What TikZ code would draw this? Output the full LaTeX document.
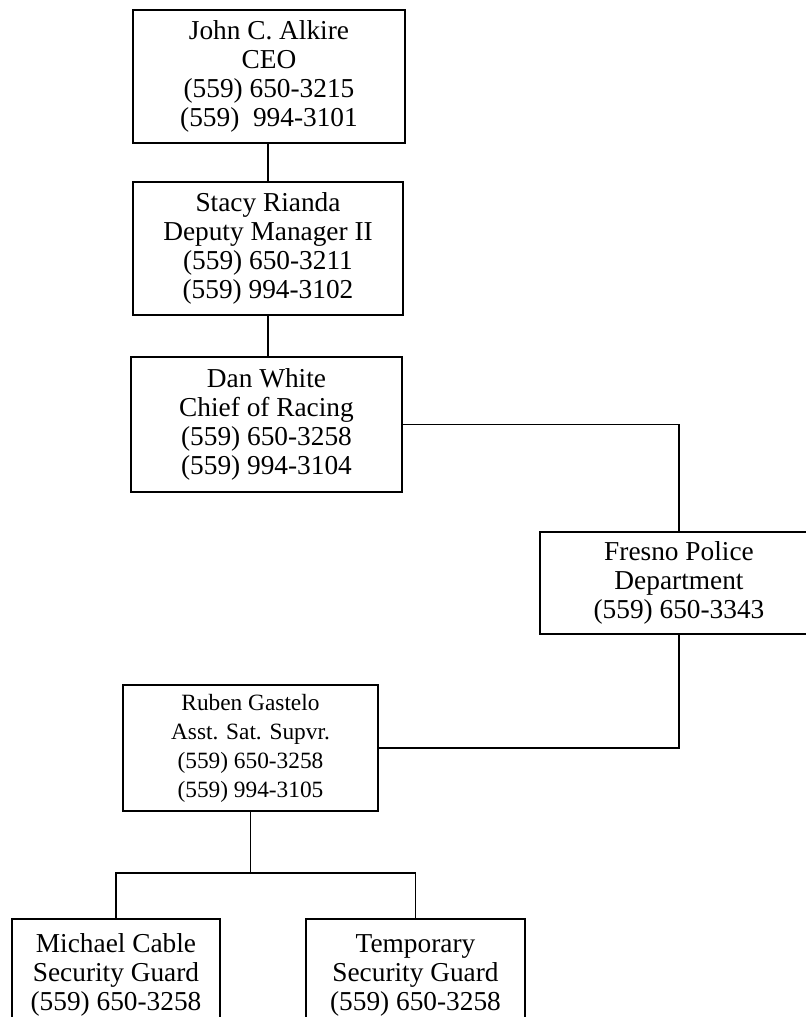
\documentclass[tikz,border=0pt]{standalone}
\usepackage{fontspec}
\setmainfont{Liberation Serif}
\usepackage{tikz}
\newcommand{\midX}{268}
\newcommand{\splitY}{873}
\newcommand{\lowX}{0}
\newcommand{\lowY}{0}
\newcommand{\hiX}{806}
\newcommand{\hiY}{1017}

\begin{document}
\begin{tikzpicture}[x=0.75pt,y=-0.75pt,
    person/.style={draw=black, line width=0.8pt, align=center, inner sep=0pt,
        font=\fontsize{20.5}{21.75}\selectfont},
    link/.style={draw=black, line width=0.8pt}]

        % Fix the page to the size of the scan
        \useasboundingbox (\lowX,\lowY) rectangle (\hiX,\hiY);

        % Draw the boxes of the chart
        \node[person, minimum width=204pt, minimum height=99.75pt] (ceo) at (269,76.5)
            {John C. Alkire\\CEO\\(559) 650-3215\\(559)~~994-3101};
        \node[person, minimum width=202.5pt, minimum height=99.75pt] (deputy) at (\midX,248.5)
            {Stacy Rianda\\Deputy Manager II\\(559) 650-3211\\(559) 994-3102};
        \node[person, minimum width=203.25pt, minimum height=101.25pt] (chief) at (266.5,424.5)
            {Dan White\\Chief of Racing\\(559) 650-3258\\(559) 994-3104};
        \node[person, minimum width=208.5pt, minimum height=76.5pt] (police) at (679,583)
            {Fresno Police\\Department\\(559) 650-3343};
        \node[person, minimum width=191.25pt, minimum height=94.5pt,
              font=\fontsize{17.5}{21.75}\selectfont] (ruben) at (250.5,748)
            {Ruben Gastelo\\Asst. Sat. Supvr.\\(559) 650-3258\\(559) 994-3105};
        \node[person, minimum width=156pt, minimum height=108pt] (cable) at (116,991)
            {Michael Cable\\Security Guard\\(559) 650-3258\\\strut};
        \node[person, minimum width=164.25pt, minimum height=108pt] (temp) at (415.5,991)
            {Temporary\\Security Guard\\(559) 650-3258\\\strut};

        % Lines between the boxes
        \draw[link] (ceo.south -| \midX,0) -- (deputy.north -| \midX,0);
        \draw[link] (deputy.south -| \midX,0) -- (chief.north -| \midX,0);
        \draw[link] (chief.east) -| (police.north);
        \draw[link] (police.south) |- (ruben.east);

        % Split down to the two guards
        \coordinate (split) at (ruben.south |- 0,\splitY);
        \draw[link] (ruben.south) -- (split);
        \draw[link] (cable.north) |- (split) -| (temp.north);
\end{tikzpicture}
\end{document}
